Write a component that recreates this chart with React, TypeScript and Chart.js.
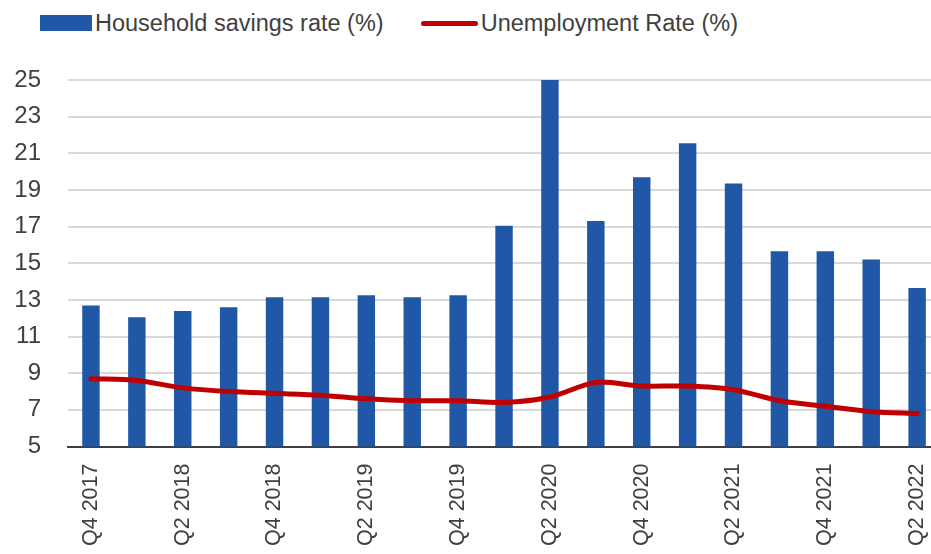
import React, { useEffect, useRef } from "react";
import { Chart, registerables } from "chart.js";

Chart.register(...registerables);

const quarters = [
  "Q4 2017", "Q1 2018", "Q2 2018", "Q3 2018", "Q4 2018", "Q1 2019", "Q2 2019",
  "Q3 2019", "Q4 2019", "Q1 2020", "Q2 2020", "Q3 2020", "Q4 2020", "Q1 2021",
  "Q2 2021", "Q3 2021", "Q4 2021", "Q1 2022", "Q2 2022",
];
const savingsRate = [
  12.7, 12.05, 12.4, 12.6, 13.15, 13.15, 13.25, 13.15, 13.25, 17.05, 25.0,
  17.3, 19.7, 21.55, 19.35, 15.65, 15.65, 15.2, 13.65,
];
const unemploymentRate = [
  8.7, 8.6, 8.2, 8.0, 7.9, 7.8, 7.6, 7.5, 7.5, 7.4, 7.7, 8.5, 8.3, 8.3, 8.1,
  7.5, 7.2, 6.9, 6.8,
];
const seriesNames = ["Household savings rate (%)", "Unemployment Rate (%)"];
const yMin = 5;
const yMax = 25;
const yStep = 2;

const BLUE = "#2057A7";
const RED = "#C00000";
const TEXT = "#404040";
const FONT = "'Liberation Sans', Arial, sans-serif";
const W = 960;
const H = 554;

export default function App() {
  const canvasRef = useRef<HTMLCanvasElement | null>(null);

  useEffect(() => {
    document.body.style.overflow = "hidden";
    const canvas = canvasRef.current;
    if (!canvas) return;
    const chart = new Chart(canvas, {
      type: "bar",
      data: {
        labels: quarters,
        datasets: [
          {
            type: "bar",
            label: seriesNames[0],
            data: savingsRate,
            backgroundColor: BLUE,
            borderWidth: 0,
            categoryPercentage: 1,
            barPercentage: 0.38,
            order: 2,
          },
          {
            type: "line",
            label: seriesNames[1],
            data: unemploymentRate,
            borderColor: RED,
            backgroundColor: RED,
            borderWidth: 5,
            borderCapStyle: "round",
            borderJoinStyle: "round",
            tension: 0.3,
            pointRadius: 0,
            pointHoverRadius: 0,
            fill: false,
            order: 1,
          },
        ],
      },
      options: {
        animation: false,
        responsive: false,
        maintainAspectRatio: false,
        devicePixelRatio: 1,
        layout: { padding: { top: 80, left: 0, right: 3, bottom: -9 } },
        plugins: {
          legend: { display: false },
          tooltip: { enabled: false },
        },
        scales: {
          x: {
            grid: { display: false, drawTicks: false },
            border: { display: true, color: "#404040", width: 2 },
            ticks: {
              autoSkip: false,
              minRotation: 90,
              maxRotation: 90,
              padding: 17,
              color: TEXT,
              font: { family: FONT, size: 21.5 },
              callback: (_v: any, i: number) => (i % 2 === 0 ? quarters[i] : ""),
            },
          },
          y: {
            min: yMin,
            max: yMax,
            afterFit: (s: any) => {
              s.width = 68;
            },
            grid: { color: "#D9D9D9", lineWidth: 2, drawTicks: false },
            border: { display: false },
            ticks: {
              stepSize: yStep,
              autoSkip: false,
              padding: 27,
              color: TEXT,
              font: { family: FONT, size: 24 },
            },
          },
        },
      },
    });
    return () => chart.destroy();
  }, []);

  return (
    <div
      style={{
        position: "fixed",
        left: 0,
        top: 0,
        width: W,
        height: H,
        background: "#fff",
        fontFamily: FONT,
      }}
    >
      <div
        style={{
          position: "absolute",
          left: 0,
          top: 0,
          height: 46,
          display: "flex",
          alignItems: "center",
          color: TEXT,
          fontSize: 23.5,
          whiteSpace: "nowrap",
        }}
      >
        <span style={{ display: "inline-block", marginLeft: 40, width: 52, height: 16, background: BLUE }} />
        <span style={{ marginLeft: 3 }}>{seriesNames[0]}</span>
        <span
          style={{
            display: "inline-block",
            marginLeft: 37,
            width: 57,
            height: 5,
            borderRadius: 3,
            background: RED,
          }}
        />
        <span style={{ marginLeft: 3 }}>{seriesNames[1]}</span>
      </div>
      <canvas
        ref={canvasRef}
        width={W}
        height={H}
        style={{ position: "absolute", left: 0, top: 0, width: W, height: H }}
      />
    </div>
  );
}
